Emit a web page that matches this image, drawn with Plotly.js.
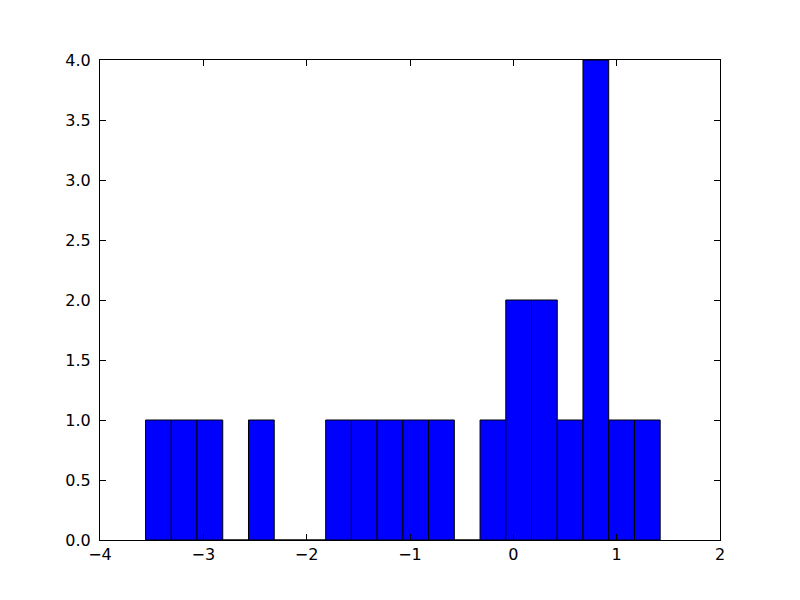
<!DOCTYPE html>
<html>
<head>
<meta charset="utf-8">
<script src="https://cdn.plot.ly/plotly-3.0.1.min.js"></script>
<style>html,body{margin:0;padding:0;background:#fff}</style>
</head>
<body>
<div id="chart" style="width:800px;height:600px"></div>
<script>
// Histogram bin edges (21 edges, 20 bins) and counts
const binEdges = [-3.559, -3.310, -3.061, -2.812, -2.563, -2.314, -2.065, -1.816, -1.567, -1.318,
                  -1.069, -0.820, -0.571, -0.322, -0.073, 0.176, 0.425, 0.674, 0.923, 1.172, 1.421];
const counts = [1, 1, 1, 0, 1, 0, 0, 1, 1, 1, 1, 1, 0, 1, 2, 2, 1, 4, 1, 1];
const xTicks = [-4, -3, -2, -1, 0, 1, 2];
const yTicks = [0, 0.5, 1, 1.5, 2, 2.5, 3, 3.5, 4];

const lefts = binEdges.slice(0, -1);
const widths = lefts.map((l, i) => binEdges[i + 1] - l);
const centers = lefts.map((l, i) => l + widths[i] / 2);

const trace = {
  type: 'bar',
  x: centers,
  y: counts,
  width: widths,
  marker: {color: '#0000ff', line: {color: '#000000', width: 1}},
  hoverinfo: 'x+y'
};

const axisCommon = {
  showline: true, linecolor: '#000', linewidth: 1, mirror: 'ticks',
  ticks: 'inside', ticklen: 6, tickcolor: '#000', tickwidth: 1,
  showgrid: false, zeroline: false,
  tickfont: {family: 'DejaVu Sans', size: 16, color: '#000'}
};

const layout = {
  width: 800, height: 600,
  margin: {l: 100, r: 80, t: 60, b: 60, pad: 0},
  paper_bgcolor: '#fff', plot_bgcolor: '#fff',
  showlegend: false,
  bargap: 0,
  xaxis: Object.assign({}, axisCommon, {range: [-4, 2], ticklabelstandoff: 0, tickvals: xTicks, ticktext: xTicks.map(v => v < 0 ? '\u2212' + Math.abs(v) : String(v))}),
  yaxis: Object.assign({}, axisCommon, {range: [0, 4], ticklabelstandoff: 5, tickvals: yTicks, ticktext: yTicks.map(v => v.toFixed(1))})
};

Plotly.newPlot('chart', [trace], layout, {displayModeBar: false, staticPlot: true});
</script>
</body>
</html>
